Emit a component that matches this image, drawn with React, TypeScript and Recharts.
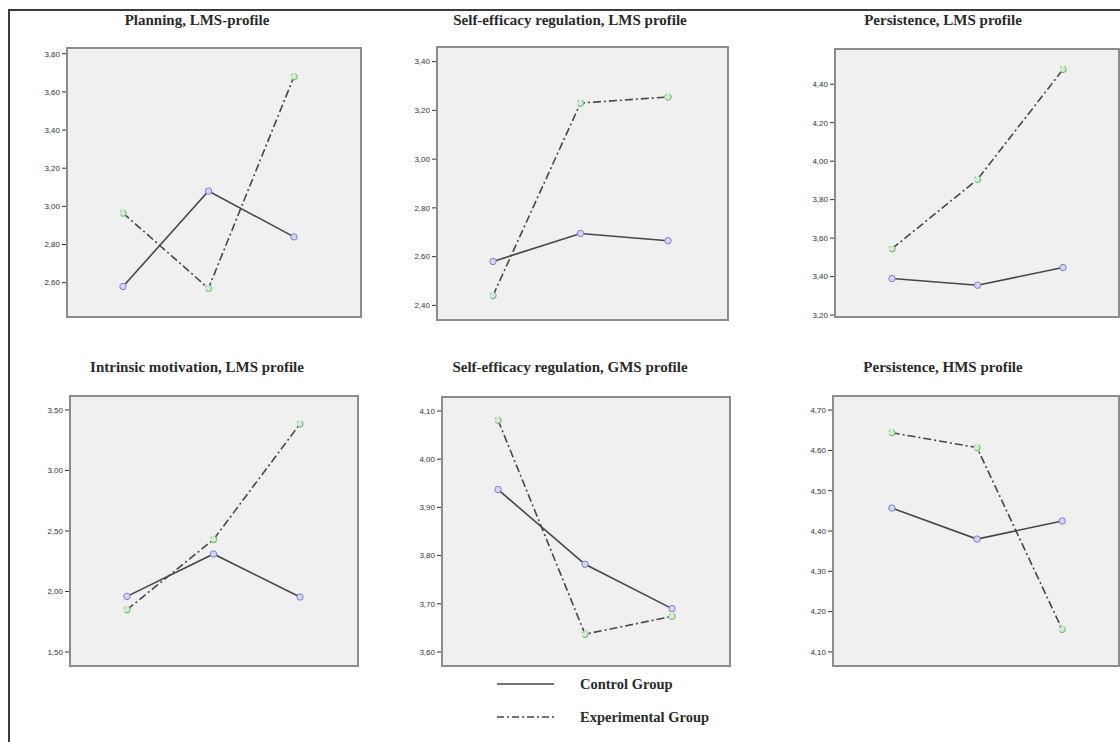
import { LineChart, Line, XAxis, YAxis, CartesianGrid } from 'recharts';

// measurement occasions (no labels on the x axis)
const timePoints = [1, 2, 3];

const planningControl = [2.58, 3.08, 2.84];
const planningExperimental = [2.965, 2.57, 3.68];
const selfEffLmsControl = [2.58, 2.695, 2.665];
const selfEffLmsExperimental = [2.44, 3.23, 3.255];
const persistLmsControl = [3.39, 3.355, 3.447];
const persistLmsExperimental = [3.545, 3.905, 4.477];
const intrinsicControl = [1.96, 2.31, 1.955];
const intrinsicExperimental = [1.85, 2.43, 3.385];
const selfEffGmsControl = [3.937, 3.782, 3.69];
const selfEffGmsExperimental = [4.081, 3.637, 3.674];
const persistHmsControl = [4.457, 4.38, 4.425];
const persistHmsExperimental = [4.644, 4.607, 4.156];

const planningTicks = [2.6, 2.8, 3.0, 3.2, 3.4, 3.6, 3.8];
const selfEffLmsTicks = [2.4, 2.6, 2.8, 3.0, 3.2, 3.4];
const persistLmsTicks = [3.2, 3.4, 3.6, 3.8, 4.0, 4.2, 4.4];
const intrinsicTicks = [1.5, 2.0, 2.5, 3.0, 3.5];
const selfEffGmsTicks = [3.6, 3.7, 3.8, 3.9, 4.0, 4.1];
const persistHmsTicks = [4.1, 4.2, 4.3, 4.4, 4.5, 4.6, 4.7];

const seriesNames = ['Control Group', 'Experimental Group'];

const LINE = '#474747';
const CONTROL_DOT = { r: 3.2, stroke: '#7b7fd6', fill: '#d4d6f4', strokeWidth: 1 };
const EXP_DOT = { r: 3.2, stroke: '#5fb45f', fill: '#d3ecd3', strokeWidth: 1 };
const DASH = '8 3 2 3';
const SERIF = '"Liberation Serif", "Times New Roman", serif';

const panels = [
  { title: 'Planning, LMS-profile', control: planningControl, experimental: planningExperimental,
    ticks: planningTicks, yDomain: [2.42, 3.83], xDomain: [0.345, 3.784],
    box: { left: 67, top: 48, width: 294, height: 269 }, titleX: 197, titleY: 20 },
  { title: 'Self-efficacy regulation, LMS profile', control: selfEffLmsControl, experimental: selfEffLmsExperimental,
    ticks: selfEffLmsTicks, yDomain: [2.34, 3.46], xDomain: [0.36, 3.686],
    box: { left: 437, top: 47, width: 291, height: 273 }, titleX: 570, titleY: 20 },
  { title: 'Persistence, LMS profile', control: persistLmsControl, experimental: persistLmsExperimental,
    ticks: persistLmsTicks, yDomain: [3.19, 4.583], xDomain: [0.333, 3.655],
    box: { left: 835, top: 49, width: 284, height: 268 }, titleX: 943, titleY: 20 },
  { title: 'Intrinsic motivation, LMS profile', control: intrinsicControl, experimental: intrinsicExperimental,
    ticks: intrinsicTicks, yDomain: [1.385, 3.615], xDomain: [0.341, 3.67],
    box: { left: 70, top: 396, width: 288, height: 270 }, titleX: 197, titleY: 367 },
  { title: 'Self-efficacy regulation, GMS profile', control: selfEffGmsControl, experimental: selfEffGmsExperimental,
    ticks: selfEffGmsTicks, yDomain: [3.571, 4.129], xDomain: [0.356, 3.666],
    box: { left: 442, top: 397, width: 288, height: 269 }, titleX: 570, titleY: 367 },
  { title: 'Persistence, HMS profile', control: persistHmsControl, experimental: persistHmsExperimental,
    ticks: persistHmsTicks, yDomain: [4.065, 4.735], xDomain: [0.31, 3.667],
    box: { left: 833, top: 396, width: 286, height: 270 }, titleX: 943, titleY: 367 },
];

const Y_AXIS_W = 40;
const X_AXIS_H = 8;
const fmt = (v: number) => v.toFixed(2).replace('.', ',');

function Panel({ p }: { p: (typeof panels)[number] }) {
  const data = timePoints.map((t, i) => ({ t, control: p.control[i], experimental: p.experimental[i] }));
  const { box } = p;
  return (
    <>
      <div style={{
        position: 'absolute', left: p.titleX, top: p.titleY, transform: 'translate(-50%, -50%)',
        fontFamily: SERIF, fontSize: 15, fontWeight: 'bold',
        color: '#2a2a2a', whiteSpace: 'nowrap',
      }}>{p.title}</div>
      <div style={{ position: 'absolute', left: box.left - Y_AXIS_W, top: box.top }}>
        <LineChart width={box.width + Y_AXIS_W} height={box.height + X_AXIS_H} data={data}
          margin={{ top: 0, right: 0, bottom: 0, left: 0 }}>
          <CartesianGrid fill="#f0f0f0" horizontal={false} vertical={false} />
          <XAxis dataKey="t" type="number" domain={p.xDomain} ticks={timePoints} tick={false}
            axisLine={false} tickLine={{ stroke: '#333' }} tickSize={5} height={X_AXIS_H}
            allowDataOverflow />
          <YAxis type="number" domain={p.yDomain} ticks={p.ticks} width={Y_AXIS_W} allowDataOverflow
            axisLine={false} tickLine={{ stroke: '#333' }} tickSize={5} tickMargin={2}
            tickFormatter={fmt} tick={{ fontSize: 8, fill: '#333', fontFamily: '"Liberation Sans", Arial, sans-serif' }} />
          <Line dataKey="control" stroke={LINE} strokeWidth={1.6} dot={CONTROL_DOT}
            activeDot={false} isAnimationActive={false} />
          <Line dataKey="experimental" stroke={LINE} strokeWidth={1.6} strokeDasharray={DASH}
            dot={EXP_DOT} activeDot={false} isAnimationActive={false} />
        </LineChart>
      </div>
      <div style={{
        position: 'absolute', left: box.left - 1, top: box.top - 1, width: box.width + 2, height: box.height + 2,
        border: '2px solid #8c8c8c', boxSizing: 'border-box', pointerEvents: 'none',
      }} />
    </>
  );
}

export default function App() {
  return (
    <div style={{ position: 'absolute', left: 0, top: 0, width: 1120, height: 742, background: '#fff', overflow: 'hidden' }}>
      {/* outer frame */}
      <div style={{ position: 'absolute', left: 8, top: 9, width: 1200, height: 800, borderTop: '2px solid #3c3c3c', borderLeft: '2px solid #3c3c3c' }} />
      {panels.map((p) => <Panel key={p.title} p={p} />)}
      <svg style={{ position: 'absolute', left: 480, top: 668 }} width={300} height={70}>
        {seriesNames.map((name, i) => (
          <g key={name} transform={`translate(0, ${16 + i * 33})`}>
            <line x1={17} x2={74} y1={0} y2={0} stroke={LINE} strokeWidth={1.6}
              strokeDasharray={i === 1 ? '7 3 2 3' : undefined} />
            <text x={100} y={5} fontSize={14.5} fontFamily={SERIF}
              fontWeight="bold" fill="#2a2a2a">{name}</text>
          </g>
        ))}
      </svg>
    </div>
  );
}
